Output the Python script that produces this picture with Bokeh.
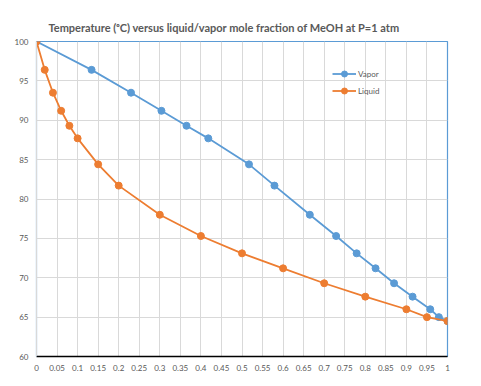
from bokeh.plotting import figure
from bokeh.models import FixedTicker, ColumnDataSource, Legend, LegendItem, InlineStyleSheet
from bokeh.embed import file_html
from bokeh.resources import INLINE

# Data (methanol-water VLE at 1 atm)
liquid_x = [0, 0.02, 0.04, 0.06, 0.08, 0.10, 0.15, 0.20, 0.30, 0.40, 0.50, 0.60, 0.70, 0.80, 0.90, 0.95, 1.00]
vapor_y = [0, 0.134, 0.230, 0.304, 0.365, 0.418, 0.517, 0.579, 0.665, 0.729, 0.779, 0.825, 0.870, 0.915, 0.958, 0.979, 1.00]
temps = [100, 96.4, 93.5, 91.2, 89.3, 87.7, 84.4, 81.7, 78.0, 75.3, 73.1, 71.2, 69.3, 67.6, 66.0, 65.0, 64.5]

x_ticks = [round(i * 0.05, 2) for i in range(21)]
x_tick_labels = ["0", "0.05", "0.1", "0.15", "0.2", "0.25", "0.3", "0.35", "0.4", "0.45", "0.5",
                 "0.55", "0.6", "0.65", "0.7", "0.75", "0.8", "0.85", "0.9", "0.95", "1"]
y_ticks = [60, 65, 70, 75, 80, 85, 90, 95, 100]

BLUE = "#5B9BD5"
ORANGE = "#ED7D31"
GRAY = "#595959"
FONT = "Lato"

p = figure(width=481, height=386, x_range=(0, 1), y_range=(60, 100),
           output_backend="svg", toolbar_location=None,
           min_border_left=36, min_border_right=34, min_border_top=41, min_border_bottom=30)
p.stylesheets = [InlineStyleSheet(css=":host { outline: 1px solid #d9d9d9; outline-offset: -8px; }")]

p.title.text = "Temperature (ᵒC) versus liquid/vapor mole fraction of MeOH at P=1 atm"
p.title.text_font = FONT
p.title.text_font_size = "11px"
p.title.text_font_style = "bold"
p.title.text_color = GRAY
p.title.align = "left"
p.title.offset = 12
p.title.standoff = 16

p.outline_line_color = BLUE
p.outline_line_width = 1.2

p.xaxis.ticker = FixedTicker(ticks=x_ticks)
p.xaxis.major_label_overrides = {t: l for t, l in zip(x_ticks, x_tick_labels)}
p.yaxis.ticker = FixedTicker(ticks=y_ticks)
p.yaxis.major_label_overrides = {t: str(t) for t in y_ticks}

for ax in (p.xaxis, p.yaxis):
    ax.major_tick_line_color = None
    ax.minor_tick_line_color = None
    ax.major_tick_out = 0
    ax.major_tick_in = 0
    ax.minor_tick_out = 0
    ax.minor_tick_in = 0
    ax.major_label_text_font = FONT
    ax.major_label_text_font_size = "8px"
    ax.major_label_text_color = GRAY
    ax.major_label_standoff = 8

p.xaxis.axis_line_color = "black"
p.xaxis.axis_line_width = 1.5
p.yaxis.axis_line_color = "#d9d9d9"

p.xgrid.ticker = FixedTicker(ticks=x_ticks)
p.ygrid.ticker = FixedTicker(ticks=y_ticks)
p.grid.grid_line_color = "#d9d9d9"
p.grid.grid_line_width = 1

vsrc = ColumnDataSource(dict(x=vapor_y, t=temps))
lsrc = ColumnDataSource(dict(x=liquid_x, t=temps))

vl = p.line("x", "t", source=vsrc, line_color=BLUE, line_width=1.8)
vc = p.scatter("x", "t", source=vsrc, size=7, fill_color=BLUE, line_color=BLUE)
ll = p.line("x", "t", source=lsrc, line_color=ORANGE, line_width=1.8)
lc = p.scatter("x", "t", source=lsrc, size=7, fill_color=ORANGE, line_color=ORANGE)

legend = Legend(items=[LegendItem(label="Vapor", renderers=[vl, vc]),
                       LegendItem(label="Liquid", renderers=[ll, lc])],
                location=(296, 258), padding=0, margin=0, spacing=2,
                glyph_width=24, glyph_height=15, label_height=15,
                label_text_font=FONT, label_text_font_size="8px", label_text_color=GRAY,
                label_standoff=2, background_fill_alpha=0, border_line_color=None)
p.add_layout(legend, "center")

open("out.html", "w").write(file_html(p, INLINE))
